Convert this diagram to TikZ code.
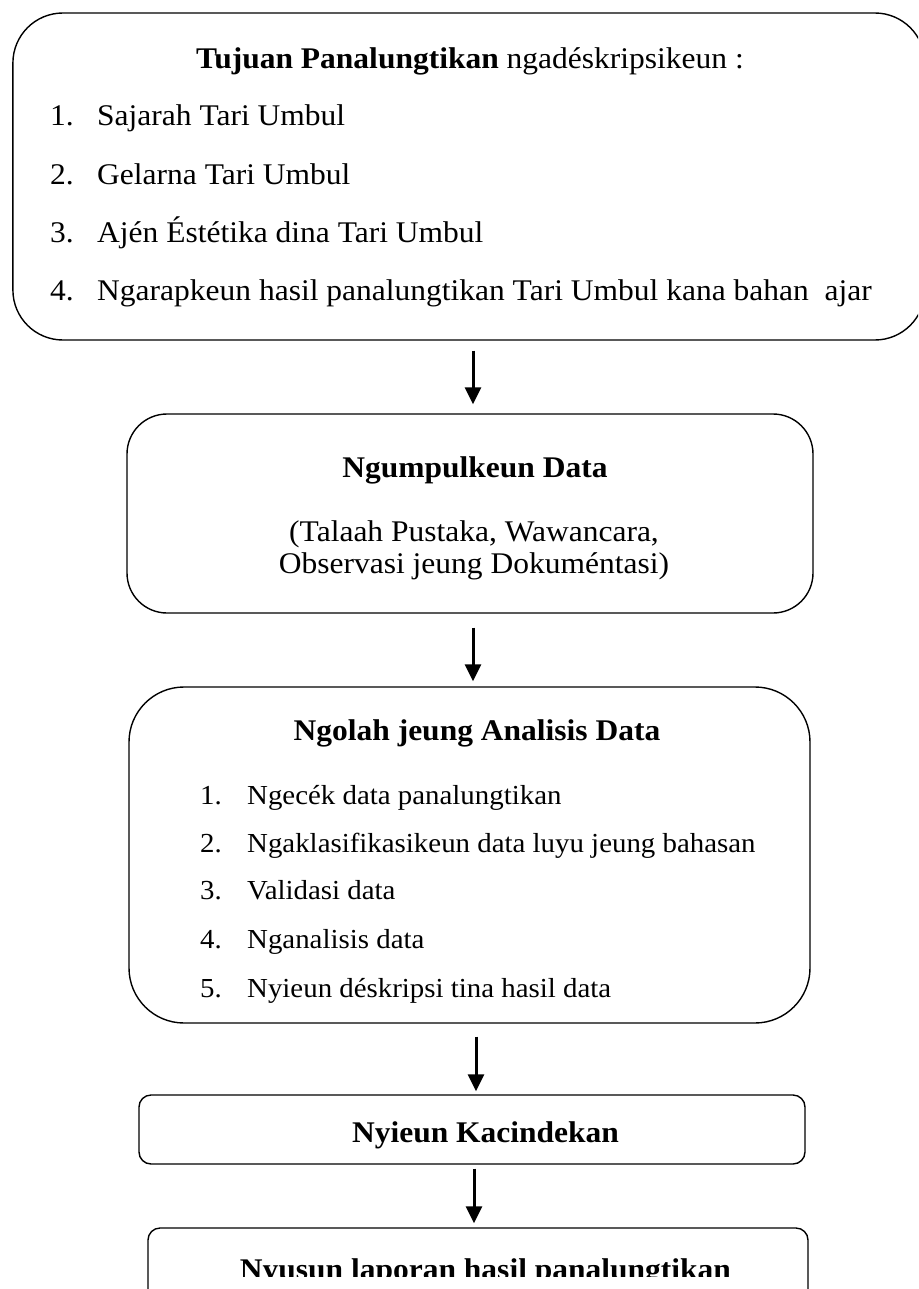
\documentclass[tikz,border=0pt]{standalone}
\usepackage{fontspec}
\setmainfont{Liberation Serif}[FakeStretch=1.05]
\usetikzlibrary{arrows.meta}
\begin{document}
\begin{tikzpicture}[x=1pt,y=-1pt,
  box/.style={draw, line width=1.4pt, inner sep=0pt},
  itm/.style={inner sep=0pt, anchor=base west, font=\fontsize{30}{36}\selectfont},
  itmb/.style={inner sep=0pt, anchor=base west, font=\fontsize{27.5}{33}\selectfont},
  txt/.style={inner sep=0pt, anchor=base, font=\fontsize{30}{36}\selectfont},
  ttl/.style={inner sep=0pt, anchor=base, font=\fontsize{30}{36}\selectfont\bfseries},
  arr/.style={line width=3pt, -{Triangle[width=16pt,length=17pt]}}]
\useasboundingbox (0,0) rectangle (918,1289);
\clip (0,0) rectangle (918,1289);

% boxes
\node[box, rounded corners=50pt, minimum width=912pt, minimum height=327pt] (b1) at (468.9,176.5) {};
\node[box, rounded corners=40pt, minimum width=686pt, minimum height=199pt] (b2) at (470,513.5) {};
\node[box, rounded corners=55pt, minimum width=681pt, minimum height=336pt] (b3) at (469.5,855) {};
\node[box, rounded corners=12pt, minimum width=666pt, minimum height=69pt] (b4) at (472,1129.5) {};
\node[box, rounded corners=12pt, minimum width=660pt, minimum height=80pt] (b5) at (478,1268) {};

% box 1 text
\node[txt] (t1) at (470,69) {\textbf{Tujuan Panalungtikan} ngadéskripsikeun :};
\node[itm] (i11) at (50,126) {\makebox[47pt][l]{1.}Sajarah Tari Umbul};
\node[itm] (i12) at (50,185) {\makebox[47pt][l]{2.}Gelarna Tari Umbul};
\node[itm] (i13) at (50,243) {\makebox[47pt][l]{3.}Ajén Éstétika dina Tari Umbul};
\node[itm] (i14) at (50,300) {\makebox[47pt][l]{4.}Ngarapkeun hasil panalungtikan Tari Umbul kana bahan~ ajar};

% box 2 text
\node[ttl] (t2) at (475,477) {Ngumpulkeun Data};
\node[txt] (l21) at (474,541) {(Talaah Pustaka, Wawancara,};
\node[txt] (l22) at (474,573) {Observasi jeung Dokuméntasi)};

% box 3 text
\node[ttl] (t3) at (477,740) {Ngolah jeung Analisis Data};
\node[itmb] (i31) at (200,804) {\makebox[47pt][l]{1.}Ngecék data panalungtikan};
\node[itmb] (i32) at (200,852) {\makebox[47pt][l]{2.}Ngaklasifikasikeun data luyu jeung bahasan};
\node[itmb] (i33) at (200,899) {\makebox[47pt][l]{3.}Validasi data};
\node[itmb] (i34) at (200,948) {\makebox[47pt][l]{4.}Nganalisis data};
\node[itmb] (i35) at (200,997) {\makebox[47pt][l]{5.}Nyieun déskripsi tina hasil data};

% box 4 text
\node[ttl] (t4) at (485.5,1142) {Nyieun Kacindekan};

% box 5 text (clipped like the original)
\begin{scope}
\clip (0,0) rectangle (918,1276);
\node[ttl] (t5) at (485.5,1279) {Nyusun laporan hasil panalungtikan};
\end{scope}

% arrows
\coordinate (ax1) at (473,0);
\coordinate (ax2) at (473,0);
\coordinate (ax3) at (476,0);
\coordinate (ax4) at (474,0);
\draw[arr, shorten <=10pt, shorten >=9pt] (b1.south -| ax1) -- (b2.north -| ax1);
\draw[arr, shorten <=14pt, shorten >=5pt] (b2.south -| ax2) -- (b3.north -| ax2);
\draw[arr, shorten <=13pt, shorten >=3pt] (b3.south -| ax3) -- (b4.north -| ax3);
\draw[arr, shorten <=4pt, shorten >=4pt] (b4.south -| ax4) -- (b5.north -| ax4);
\end{tikzpicture}
\end{document}
